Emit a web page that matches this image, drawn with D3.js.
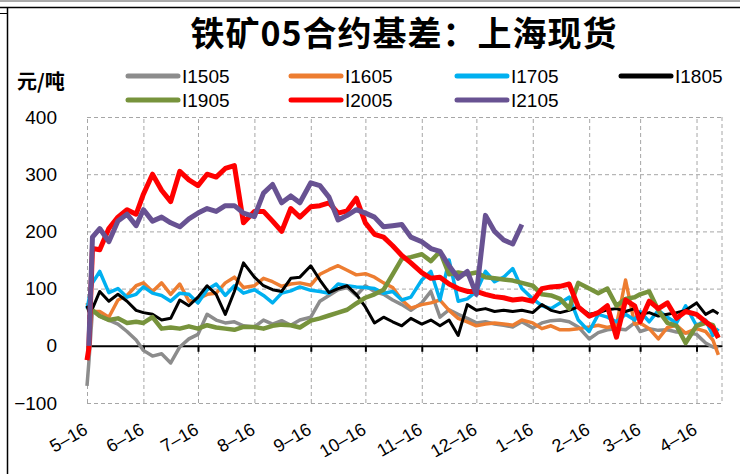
<!DOCTYPE html>
<html>
<head>
<meta charset="utf-8">
<script src="https://cdn.jsdelivr.net/npm/d3@7"></script>
<style>
  body { margin: 0; background: #fff; }
  svg { display: block; }
</style>
</head>
<body>
<script>
// chart data
const dates = [
  "2021-05-16","2021-05-17","2021-05-19","2021-05-23","2021-05-28","2021-06-02","2021-06-07","2021-06-12",
  "2021-06-16","2021-06-21","2021-06-26","2021-07-01","2021-07-06","2021-07-11","2021-07-16","2021-07-21",
  "2021-07-26","2021-07-31","2021-08-05","2021-08-10","2021-08-16","2021-08-21","2021-08-26","2021-08-31",
  "2021-09-05","2021-09-10","2021-09-16","2021-09-21","2021-09-26","2021-10-01","2021-10-06","2021-10-11",
  "2021-10-16","2021-10-21","2021-10-26","2021-10-31","2021-11-05","2021-11-10","2021-11-16","2021-11-21",
  "2021-11-26","2021-12-01","2021-12-06","2021-12-11","2021-12-16","2021-12-21","2021-12-26","2021-12-31",
  "2022-01-05","2022-01-10","2022-01-16","2022-01-21","2022-01-26","2022-01-31","2022-02-05","2022-02-10",
  "2022-02-16","2022-02-21","2022-02-26","2022-03-03","2022-03-08","2022-03-13","2022-03-16","2022-03-21",
  "2022-03-26","2022-03-31","2022-04-05","2022-04-10","2022-04-16","2022-04-21","2022-04-25","2022-04-28"
];

const i1505 = [-70,-30,62,52,45,38,25,10, -8,-18,-14,-30,-2,12,20,55, 45,40,42,35,33,45,38,44,
  36,45,50,78,88,98,102,88, 105,95,90,80,72,62,75,95, 50,63,55,48,40,42,38,36,
  33,42,31,40,44,45,42,33, 12,23,28,30,28,40,25,30, 27,28,24,23,20,5,-2,-4];
const i1605 = [75,65,60,60,50,80,88,105, 110,95,110,90,108,78,82,90, 92,110,120,102,105,118,112,104,
  108,110,106,125,133,140,132,124, 126,120,110,102,80,66,72,75, 80,62,48,42,35,38,40,38,
  36,45,40,30,35,28,28,30, 33,36,32,36,115,38,40,30, 12,32,36,22,30,25,10,-16];
const i1705 = [65,80,110,130,93,100,85,90, 103,92,88,78,92,90,75,98, 108,88,105,92,98,88,75,92,
  96,103,97,95,92,108,105,103, 102,100,92,95,80,85,115,130, 80,150,78,82,95,130,112,120,
  135,100,82,70,65,75,85,45, 25,55,50,42,55,45,60,42, 62,50,40,70,35,45,18,30];
const i1805 = [70,60,65,95,78,90,78,62, 58,55,45,48,80,70,85,105, 90,55,95,145,120,105,98,95,
  118,120,140,115,93,100,105,90, 68,40,50,42,35,48,38,45, 35,45,18,72,62,65,60,62,
  60,62,58,72,62,58,62,68, 55,58,63,65,60,65,55,58, 52,55,58,62,75,55,62,56];
const i1905 = [null,null,62,52,45,48,40,42, 40,50,30,32,30,34,30,36, 32,30,28,33,33,30,35,37,
  36,32,44,48,53,58,63,74, 84,90,98,125,152,155,160,148, 165,125,128,125,128,120,118,116,
  114,110,105,90,88,82,65,110, 100,92,100,70,82,85,90,95, 62,40,35,5,35,40,36,14];
const i2005 = [-25,-5,170,168,205,225,238,230, 265,300,272,252,305,290,280,300, 295,310,315,215,235,235,218,200,
  240,225,243,245,250,232,236,258, 215,195,190,175,158,145,128,118, 120,108,100,95,95,90,86,84,
  80,82,78,100,103,104,108,68, 52,58,70,15,80,70,42,78, 65,75,48,60,55,42,32,14];
const i2105 = [null,0,190,205,182,218,230,210, 238,218,225,215,208,222,232,240, 235,245,245,232,226,267,282,250,
  262,250,285,280,260,220,228,238, 232,225,208,210,212,190,182,170, 165,140,118,130,90,228,200,185,
  178,212,null,null,null,null,null,null, null,null,null,null,null,null,null,null, null,null,null,null,null,null,null,null];

const seriesNames = ["I1505", "I1605", "I1705", "I1805", "I1905", "I2005", "I2105"];
const seriesValues = [i1505, i1605, i1705, i1805, i1905, i2005, i2105];
const seriesColors = ["#8C8C8C", "#ED7D31", "#00B0F0", "#000000", "#77933C", "#FF0000", "#685292"];
const seriesWidths = [3.5, 3.5, 3.5, 3, 4.5, 5, 5];

const monthTicks = ["2021-05-16","2021-06-16","2021-07-16","2021-08-16","2021-09-16","2021-10-16",
  "2021-11-16","2021-12-16","2022-01-16","2022-02-16","2022-03-16","2022-04-16"];
const yTicks = [-100, 0, 100, 200, 300, 400];

const W = 740, H = 474;
const plot = { left: 87, right: 722, top: 117, bottom: 403 };
const parse = d3.timeParse("%Y-%m-%d");

const svg = d3.select("body").append("svg")
  .attr("width", W)
  .attr("height", H);

// outer frame bits from the source screenshot
svg.append("line").attr("x1", 0).attr("x2", W).attr("y1", 1).attr("y2", 1)
  .attr("stroke", "#555").attr("stroke-width", 1);
svg.append("line").attr("x1", 0).attr("x2", W).attr("y1", 7.5).attr("y2", 7.5)
  .attr("stroke", "#000").attr("stroke-width", 1.5);
svg.append("line").attr("x1", 7.5).attr("x2", 7.5).attr("y1", 7).attr("y2", H)
  .attr("stroke", "#000").attr("stroke-width", 1.5);
svg.append("line").attr("x1", 0).attr("x2", 7).attr("y1", 13.5).attr("y2", 13.5)
  .attr("stroke", "#000").attr("stroke-width", 1);

const x = d3.scaleTime()
  .domain([parse("2021-05-16"), parse("2022-04-30")])
  .range([plot.left, plot.right]);
const y = d3.scaleLinear()
  .domain([-100, 400])
  .range([plot.bottom, plot.top]);

// vertical dashed grid
svg.append("g")
  .attr("class", "vgrid")
  .attr("transform", `translate(0,${plot.bottom})`)
  .call(d3.axisBottom(x).tickValues(monthTicks.map(parse))
    .tickSize(-(plot.bottom - plot.top)).tickSizeOuter(0).tickFormat(""))
  .call(g => g.select(".domain").remove());

// horizontal dashed grid + y labels
svg.append("g")
  .attr("class", "hgrid")
  .attr("transform", `translate(${plot.left},0)`)
  .call(d3.axisLeft(y).tickValues(yTicks)
    .tickSize(-(plot.right - plot.left)).tickSizeOuter(0).tickPadding(30)
    .tickFormat(d => d < 0 ? "\u2212" + Math.abs(d) : d))
  .call(g => g.select(".domain").remove())
  .call(g => g.selectAll(".tick text")
    .attr("font-family", "'Liberation Sans', Arial, sans-serif")
    .attr("font-size", 19).attr("fill", "#000"))
  .call(g => g.selectAll(".tick").filter(d => d === 0).select("line").remove());

svg.selectAll(".vgrid .tick line, .hgrid .tick line")
  .attr("stroke", "#A6A6A6").attr("stroke-width", 1).attr("stroke-dasharray", "4,3");

// right border of the plot
svg.append("line")
  .attr("x1", plot.right).attr("x2", plot.right)
  .attr("y1", plot.top).attr("y2", plot.bottom)
  .attr("stroke", "#A6A6A6").attr("stroke-dasharray", "4,3");

// zero line with small ticks
svg.append("g")
  .attr("transform", `translate(0,${y(0)})`)
  .call(d3.axisBottom(x).tickValues(monthTicks.map(parse))
    .tickSize(6).tickSizeOuter(0).tickFormat(""))
  .call(g => g.select(".domain").attr("stroke", "#000").attr("stroke-width", 2))
  .call(g => g.selectAll(".tick line").attr("stroke", "#000").attr("stroke-width", 2));

// rotated month labels
const fmt = d3.timeFormat("%-m-%-d");
svg.append("g")
  .selectAll("text")
  .data(monthTicks.map(parse))
  .join("text")
  .attr("transform", d => `translate(${x(d) + 2},${plot.bottom + 30}) rotate(-30)`)
  .attr("text-anchor", "end")
  .attr("font-family", "'Liberation Sans', Arial, sans-serif")
  .attr("font-size", 18)
  .text(d => fmt(d).replace("-", "\u2013"));

// series lines
const line = d3.line()
  .defined(d => d.v !== null)
  .x(d => x(d.date))
  .y(d => y(d.v));

seriesValues.forEach((vals, i) => {
  const pts = dates.map((s, k) => ({ date: parse(s), v: vals[k] }));
  svg.append("path")
    .datum(pts)
    .attr("fill", "none")
    .attr("stroke", seriesColors[i])
    .attr("stroke-width", seriesWidths[i])
    .attr("stroke-linejoin", "round")
    .attr("d", line);
});

// title
svg.append("text")
  .attr("x", 404).attr("y", 46)
  .attr("text-anchor", "middle")
  .attr("font-family", "'Noto Sans CJK SC', sans-serif")
  .attr("font-weight", "bold")
  .attr("font-size", 34)
  .attr("letter-spacing", 1)
  .text("铁矿05合约基差：上海现货");

// unit label
svg.append("text")
  .attr("x", 17).attr("y", 89)
  .attr("font-family", "'Noto Sans CJK SC', sans-serif")
  .attr("font-weight", "bold")
  .attr("font-size", 20)
  .text("元/吨");

// legend
const legCols = [128, 291, 457, 621];
const legRows = [76, 100];
const legend = svg.append("g");
seriesNames.forEach((name, i) => {
  const cx = legCols[i % 4], cy = legRows[Math.floor(i / 4)];
  legend.append("line")
    .attr("x1", cx).attr("x2", cx + 50)
    .attr("y1", cy).attr("y2", cy)
    .attr("stroke", seriesColors[i]).attr("stroke-width", 5)
    .attr("stroke-linecap", "round");
  legend.append("text")
    .attr("x", cx + 54).attr("y", cy + 7)
    .attr("font-family", "'Liberation Sans', Arial, sans-serif")
    .attr("font-size", 19)
    .text(name);
});
</script>
</body>
</html>
